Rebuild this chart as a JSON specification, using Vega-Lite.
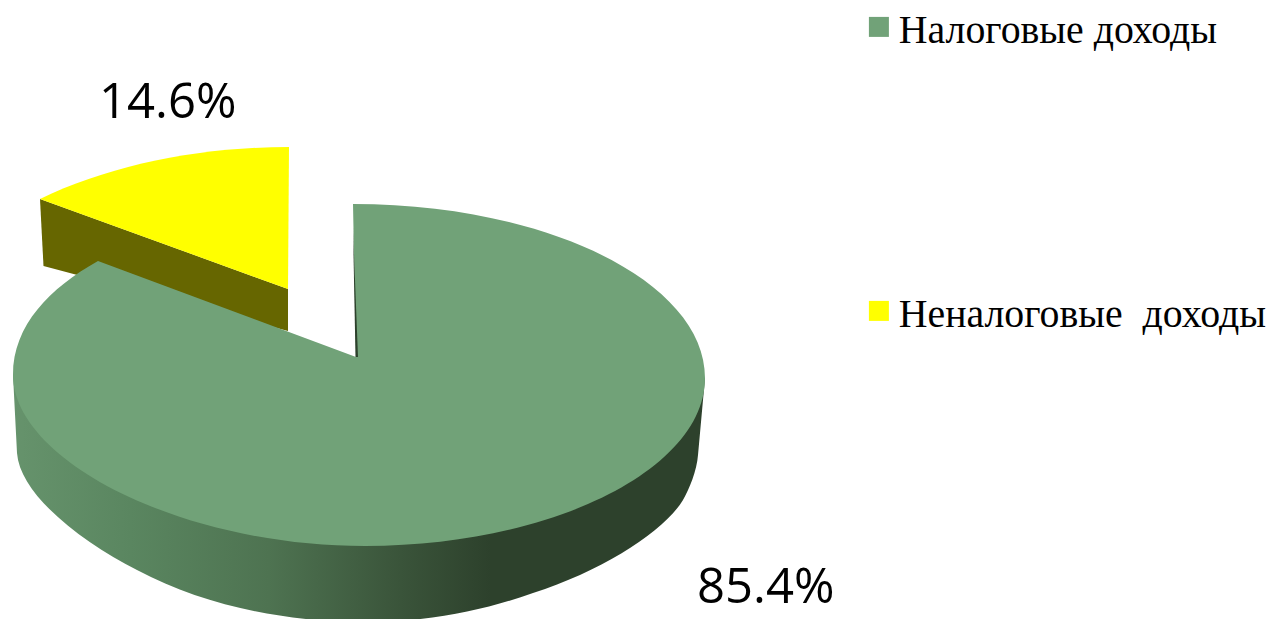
{
"$schema":"https://vega.github.io/schema/vega-lite/v6.json",
"width":1272,"height":619,"padding":0,"autosize":{"type":"none"},
"background":"white",
"view":{"stroke":null},
"data":{"values":[
{"category":"Неналоговые \u00a0доходы","share":0.146},
{"category":"Налоговые доходы","share":0.854}
]},
"encoding":{
  "color":{"field":"category","type":"nominal","scale":{"domain":["Налоговые доходы","Неналоговые \u00a0доходы"],"range":["#71a278","#ffff00"]},
   "legend":{"title":null,"orient":"none","legendX":859,"legendY":7,"padding":0,"symbolType":"square","symbolSize":400,"symbolStrokeWidth":0,"symbolOpacity":1,"labelFont":"Liberation Serif","labelFontSize":39.8,"labelColor":"#000000","labelOffset":0,"labelLimit":500,"rowPadding":240,
   "encode":{"labels":{"update":{"dy":{"value":4}}}}}}
},
"layer":[
{"transform":[{"filter":"datum.share<0.5"}],
 "mark":{"type":"point","filled":true,"opacity":1,"size":4,"fill":"#666600","strokeWidth":0,"shape":"M-596,-110.5 L-592.5,-43.5 L-348,21.5 L-348,-20.5 Z"},"encoding":{"color":{"value":"#666600"}}},
{"transform":[{"filter":"datum.share<0.5"}],
 "mark":{"type":"point","filled":true,"opacity":1,"size":4,"strokeWidth":0,"shape":"M-596,-110.5 C-526,-144.5 -436,-162.5 -347,-162.5 L-348,-20.5 Z"}},
{"transform":[{"filter":"datum.share>0.5"}],
 "mark":{"type":"point","filled":true,"opacity":1,"size":4,"strokeWidth":0,
  "fill":{"gradient":"linear","x1":0,"y1":0,"x2":1,"y2":0,"stops":[{"offset":0,"color":"#66936c"},{"offset":0.17,"color":"#5a8660"},{"offset":0.37,"color":"#4e7351"},{"offset":0.56,"color":"#3a543a"},{"offset":0.69,"color":"#2d412c"},{"offset":1,"color":"#2d412c"}]},
  "shape":"M-623,65.5 L-619,143.5 C-616,185.5 -554,232.5 -499,260.5 C-431,296.5 -351,312.5 -271,312.5 C-206,312.5 -151,300.5 -103,283.5 C-31,260.5 29,220.5 47,190.5 C53,180.5 61,160.5 62,145.5 L69,68.5 Z"},"encoding":{"color":{"value":null}}},
{"transform":[{"filter":"datum.share>0.5"}],
 "mark":{"type":"point","filled":true,"opacity":1,"size":4,"strokeWidth":0,"shape":"M-283,-105.5 C-89,-105.5 69,-27.5 69,68.5 C69,160.5 -86,236.5 -271,236.5 C-456,236.5 -623,150.5 -623,65.5 C-623,15.5 -586,-21.5 -538,-48.5 L-280,47.5 Z"}},
{"transform":[{"filter":"datum.share>0.5"}],
 "mark":{"type":"point","filled":true,"opacity":1,"size":4,"strokeWidth":0,"shape":"M-283,-81.5 L-280.5,47.5 L-278,47.5 Z"},"encoding":{"color":{"value":"#2d412c"}}},
{"transform":[{"filter":"datum.share<0.5"}],
 "mark":{"type":"text","font":"Open Sans","fontSize":49,"align":"left","baseline":"alphabetic","dx":-537,"dy":-191.5},
 "encoding":{"color":{"value":"#000000"},"text":{"field":"share","type":"quantitative","format":".1%"}}},
{"transform":[{"filter":"datum.share>0.5"}],
 "mark":{"type":"text","font":"Open Sans","fontSize":49,"align":"left","baseline":"alphabetic","dx":61,"dy":293.5},
 "encoding":{"color":{"value":"#000000"},"text":{"field":"share","type":"quantitative","format":".1%"}}}
]
}
